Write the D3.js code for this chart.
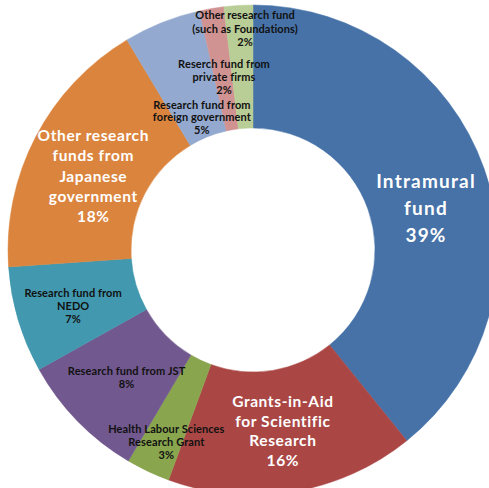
<!DOCTYPE html>
<html><head><meta charset="utf-8">
<script src="https://cdn.jsdelivr.net/npm/d3@7"></script>
<style>html,body{margin:0;padding:0;background:#fff;}svg{display:block;}</style>
</head><body>
<svg id="chart" width="489" height="488"></svg>
<script>
const categories = [
  "Intramural fund",
  "Grants-in-Aid for Scientific Research",
  "Health Labour Sciences Research Grant",
  "Research fund from JST",
  "Research fund from NEDO",
  "Other research funds from Japanese government",
  "Research fund from foreign government",
  "Reserch fund from private firms",
  "Other research fund (such as Foundations)"
];
const values = [39.2, 16.4, 2.9, 8.4, 7.0, 17.5, 5.1, 1.6, 1.9];
const percentLabels = ["39%", "16%", "3%", "8%", "7%", "18%", "5%", "2%", "2%"];
const labelLines = [
  ["Intramural", "fund"],
  ["Grants-in-Aid", "for Scientific", "Research"],
  ["Health Labour Sciences", "Research Grant"],
  ["Research fund from JST"],
  ["Research fund from", "NEDO"],
  ["Other research", "funds from", "Japanese", "government"],
  ["Research fund from", "foreign government"],
  ["Reserch fund from", "private firms"],
  ["Other research fund", "(such as Foundations)"]
];
const colors = ["#4672A8", "#AA4745", "#89A54E", "#71588F", "#4198AF", "#DB843D", "#93A9CF", "#D19392", "#B9CD96"];

// layout (styles / positions, kept separate from data)
const big = [true, true, false, false, false, true, false, false, false];
const fontSize = [19, 15.5, 11, 11, 11, 15.5, 11, 11, 11];
const spacing = [1.2, 0.6, 0.1, 0.1, 0.1, 0.6, 0.1, 0.1, 0.05];
const lineGap = [27, 19.5, 13, 13, 13, 20.3, 12.8, 13, 13.5];
const nudge = [[0, 19], [0, 0], [-8, 26], [5, 0], [-4, 4], [3, 11], [17, 38], [0, 0], [0, 0]];
const fixedPos = [null, null, null, null, null, null, null, [224, 77], [245, 29]];

const svg = d3.select("#chart");
const cx = 253, cy = 250, R = 245, r = 122;
const g = svg.append("g").attr("transform", `translate(${cx},${cy})`);

const pie = d3.pie().sort(null).value(d => d)(values);
const arc = d3.arc().innerRadius(r).outerRadius(R);

g.selectAll("path.slice").data(pie).join("path")
  .attr("class", "slice")
  .attr("d", arc)
  .attr("fill", (d, i) => colors[i])
  .attr("stroke", (d, i) => colors[i])
  .attr("stroke-width", 0.5);

g.selectAll("text.lbl").data(pie).join("text")
  .attr("class", "lbl")
  .attr("text-anchor", "middle")
  .attr("font-family", "Lato, sans-serif")
  .attr("font-weight", "bold")
  .attr("font-size", (d, i) => fontSize[i])
  .attr("letter-spacing", (d, i) => spacing[i])
  .attr("fill", (d, i) => big[i] ? "#ffffff" : "#111111")
  .each(function(d, i) {
    let [x, y] = arc.centroid(d);
    if (fixedPos[i]) { x = fixedPos[i][0] - cx; y = fixedPos[i][1] - cy; }
    else { x += nudge[i][0]; y += nudge[i][1]; }
    const lines = labelLines[i].concat([percentLabels[i]]);
    const n = lines.length;
    const t = d3.select(this);
    lines.forEach((ln, k) => {
      t.append("tspan")
        .attr("x", x)
        .attr("y", y + (k - (n - 1) / 2) * lineGap[i])
        .attr("dy", "0.35em")
        .text(ln);
    });
  });
</script>
</body></html>
